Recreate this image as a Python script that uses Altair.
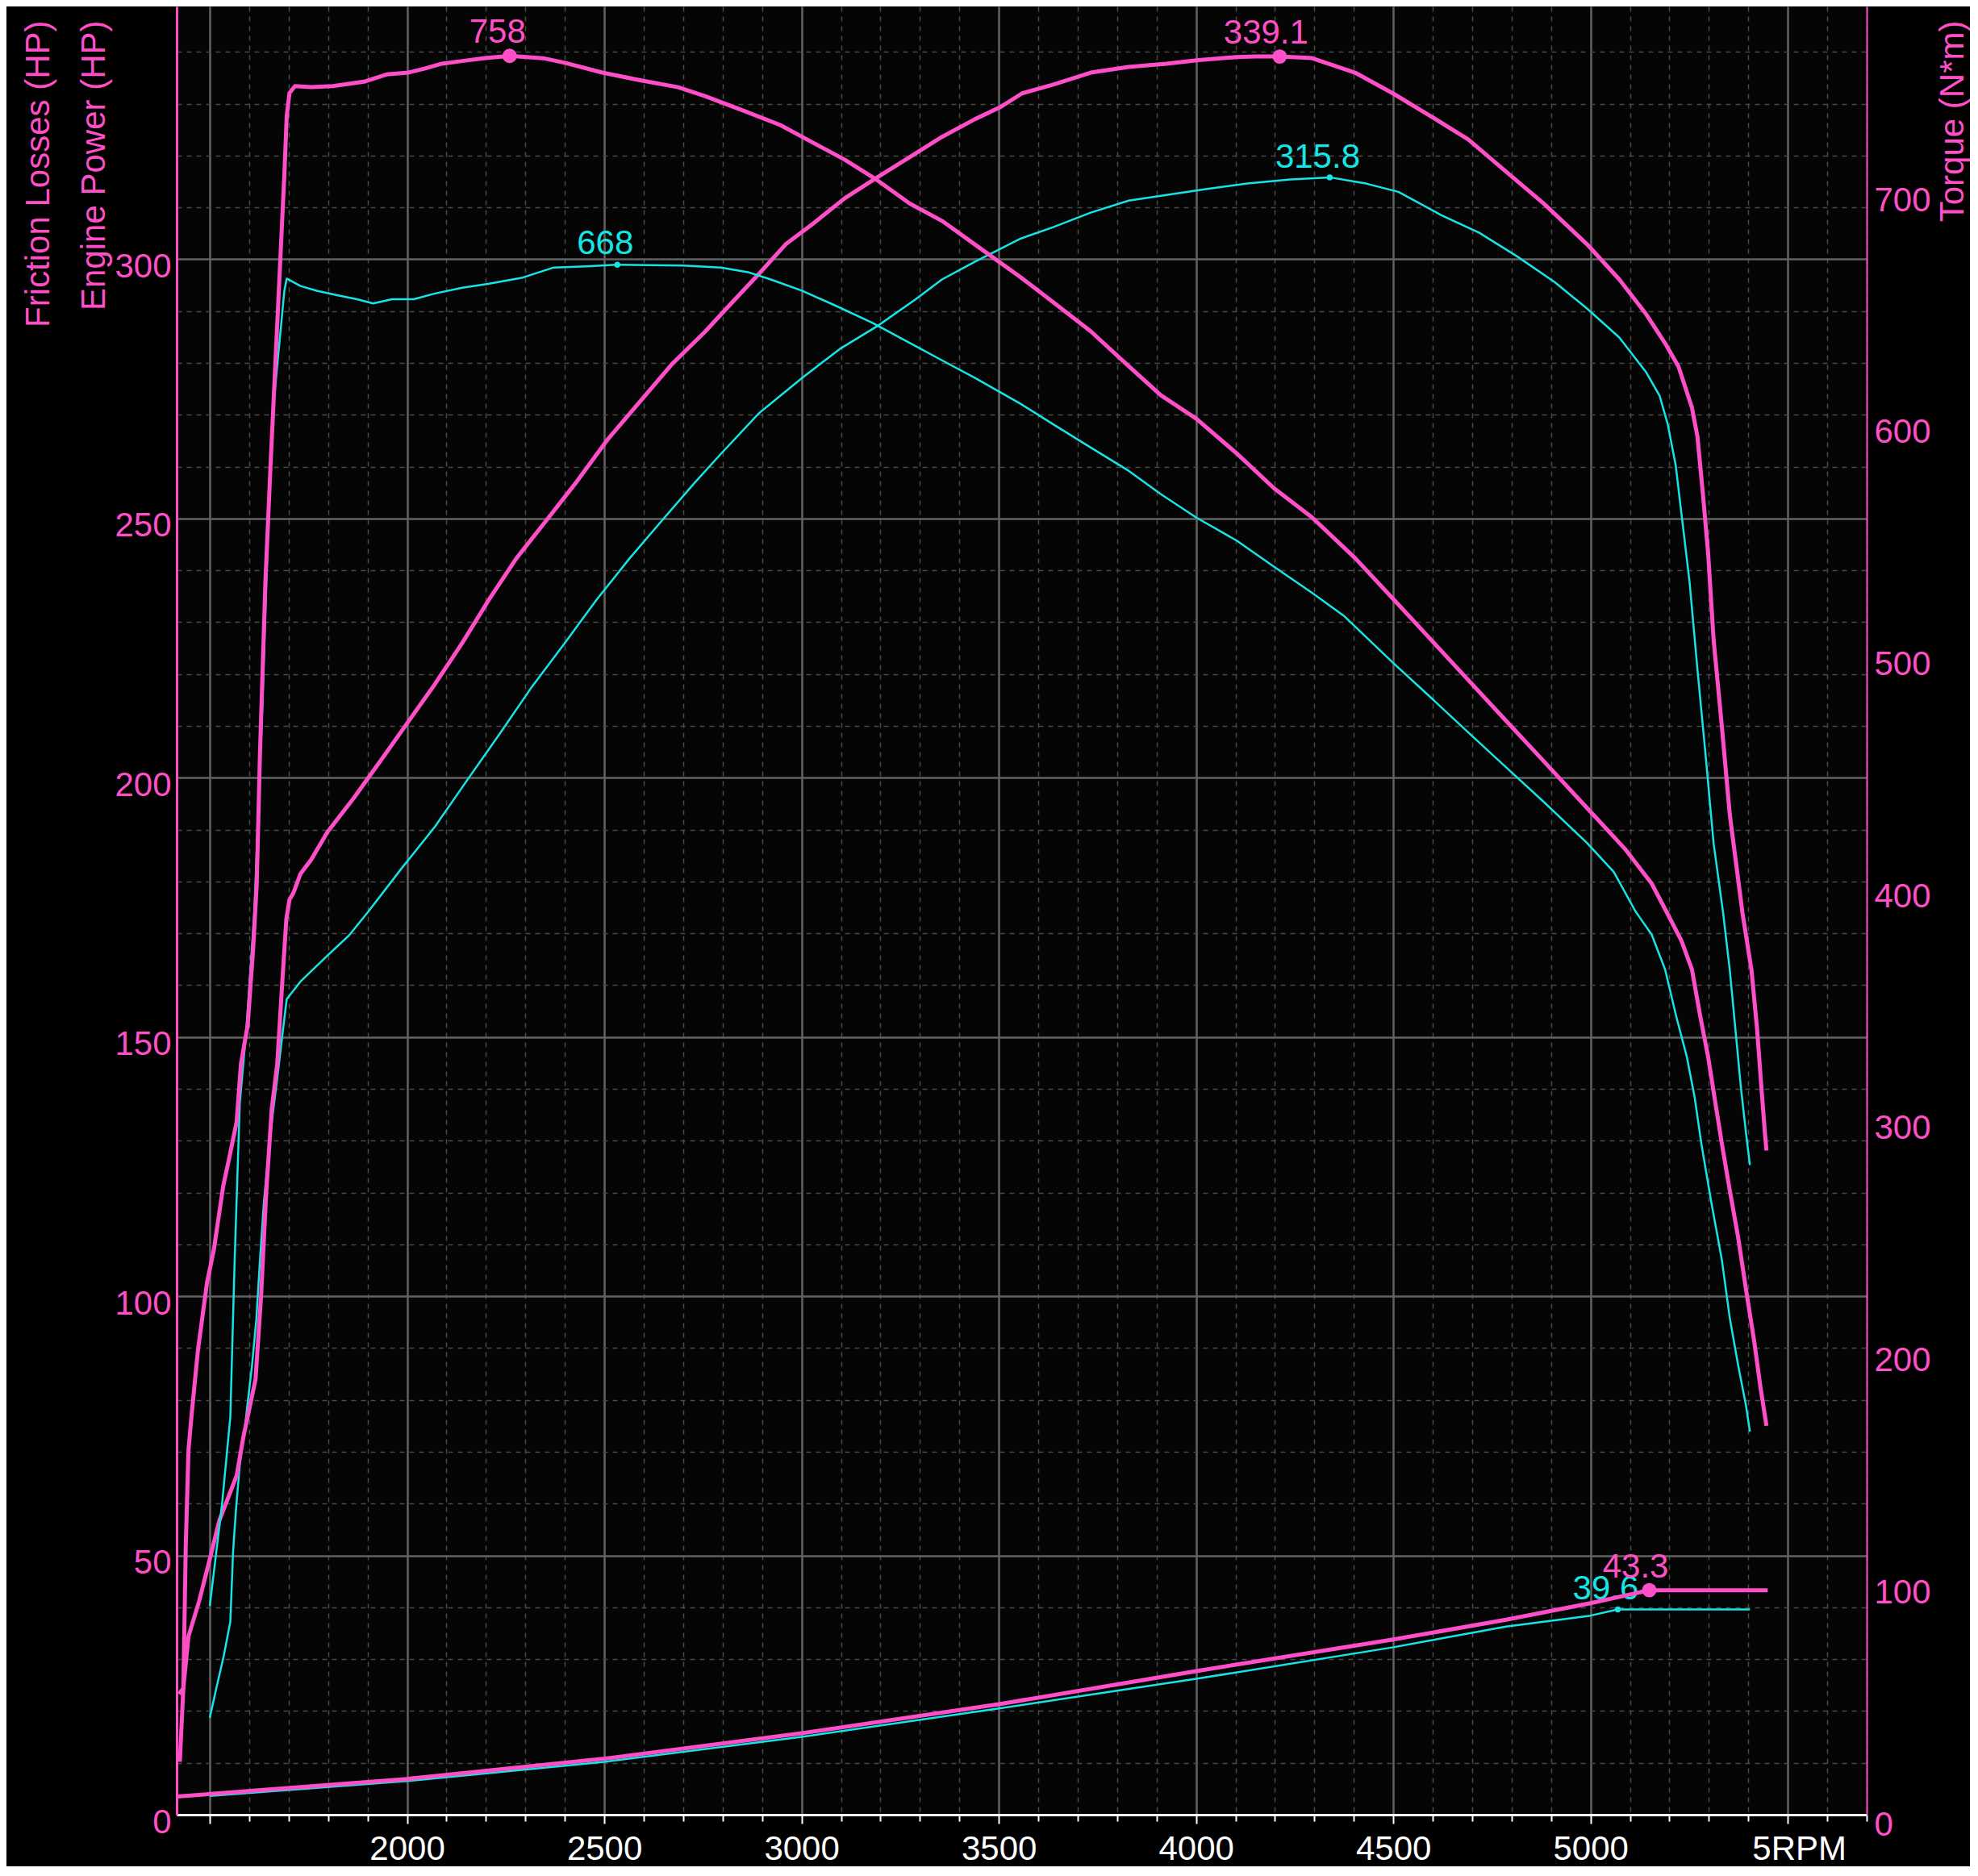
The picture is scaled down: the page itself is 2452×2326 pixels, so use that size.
import altair as alt
import pandas as pd

PINK = "#ff4fc8"
CYAN = "#17e4e4"
FONT = "Liberation Sans"

# ---------------- data ----------------
# Pink run: engine power (HP)
pink_power_rpm = [1424, 1433, 1446, 1473, 1500, 1524, 1568, 1585, 1616, 1630, 1643, 1657, 1671, 1684,
                  1694, 1702, 1712, 1730, 1757, 1798, 1866, 1935, 2003, 2071, 2140, 2208, 2277, 2358,
                  2427, 2509, 2591, 2673, 2755, 2823, 2892, 2960, 3028, 3110, 3192, 3274, 3356, 3439,
                  3503, 3559, 3638, 3733, 3829, 3925, 4007, 4103, 4150, 4212, 4294, 4403, 4499, 4595,
                  4690, 4786, 4882, 4991, 5073, 5141, 5189, 5223, 5257, 5271, 5285, 5298, 5312, 5333,
                  5353, 5385, 5408, 5422, 5433, 5442, 5446]
pink_power_hp = [10.2, 24.5, 34.4, 41.2, 49.3, 56.7, 65.4, 72.8, 84.0, 100.1, 120.0, 136.1, 144.8, 160.9,
                 172.7, 176.5, 177.8, 181.5, 184.2, 189.5, 196.2, 203.5, 210.8, 218.1, 226.0, 234.4, 242.3,
                 250.1, 256.8, 265.3, 272.6, 279.9, 286.0, 291.6, 297.2, 302.9, 306.8, 311.8, 315.8, 319.7,
                 323.6, 327.0, 329.3, 332.0, 333.7, 336.0, 337.1, 337.7, 338.4, 339.0, 339.1, 339.1, 338.8,
                 336.0, 332.0, 327.6, 323.1, 316.9, 310.7, 302.9, 296.1, 289.4, 283.8, 279.3, 271.4, 265.8,
                 254.6, 243.4, 226.6, 209.8, 192.9, 174.0, 162.9, 151.7, 140.4, 131.5, 128.1]

# Pink run: torque (N*m)
pink_torque_rpm = [1422, 1433, 1439, 1446, 1454, 1470, 1493, 1510, 1534, 1548, 1568, 1579, 1596, 1610,
                   1619, 1627, 1641, 1654, 1668, 1682, 1689, 1695, 1702, 1716, 1757, 1812, 1894, 1948,
                   2003, 2044, 2085, 2140, 2194, 2260, 2345, 2400, 2495, 2591, 2687, 2755, 2851, 2946,
                   3028, 3110, 3192, 3274, 3356, 3438, 3556, 3638, 3733, 3829, 3911, 4000, 4103, 4198,
                   4294, 4403, 4499, 4595, 4690, 4786, 4882, 4991, 5087, 5155, 5192, 5230, 5257, 5278,
                   5298, 5312, 5333, 5353, 5374, 5394, 5415, 5431, 5446]
pink_torque_nm = [52.0, 54.6, 115.6, 157.2, 172.6, 200.3, 229.4, 243.2, 270.9, 282.0, 298.6, 323.6, 340.2,
                  373.5, 401.2, 456.4, 531.6, 581.7, 631.8, 681.9, 706.9, 732.0, 742.0, 745.0, 744.5, 745.0,
                  747.0, 750.0, 750.8, 752.5, 754.5, 755.8, 757.0, 758.0, 757.0, 755.0, 750.8, 747.5, 744.5,
                  740.7, 734.5, 728.2, 720.7, 713.2, 704.4, 694.4, 686.9, 676.9, 662.5, 651.8, 639.3, 624.3,
                  611.7, 601.7, 586.7, 571.6, 559.1, 541.6, 524.1, 506.5, 489.0, 471.4, 453.9, 433.9, 416.3,
                  401.3, 389.3, 376.8, 364.3, 344.2, 326.7, 311.6, 289.1, 269.1, 249.0, 226.5, 203.9, 183.9,
                  167.6]

# Pink run: friction losses (HP)
pink_fric_rpm = [1416, 2000, 2500, 3000, 3500, 4000, 4500, 4786, 5000, 5149, 5449]
pink_fric_hp = [3.5, 6.9, 10.8, 15.7, 21.3, 27.7, 33.8, 37.6, 40.8, 43.3, 43.3]

# Cyan run: engine power (HP)
cyan_power_rpm = [1500, 1518, 1535, 1552, 1559, 1566, 1576, 1590, 1600, 1607, 1618, 1627, 1637, 1648,
                  1659, 1672, 1686, 1695, 1730, 1798, 1853, 1901, 1989, 2071, 2153, 2236, 2317, 2400,
                  2481, 2564, 2646, 2728, 2796, 2892, 3001, 3097, 3192, 3288, 3356, 3439, 3556, 3638,
                  3733, 3829, 3925, 4021, 4130, 4239, 4339, 4431, 4513, 4622, 4718, 4813, 4909, 4991,
                  5073, 5141, 5175, 5196, 5216, 5230, 5251, 5271, 5292, 5312, 5336, 5353, 5367, 5381,
                  5394, 5404]
cyan_power_hp = [18.7, 24.9, 30.5, 37.2, 50.7, 58.5, 67.5, 75.4, 82.1, 86.6, 95.6, 106.8, 118.0, 127.0,
                 134.8, 142.7, 151.7, 157.3, 160.7, 165.7, 169.6, 174.1, 182.8, 190.6, 199.6, 208.6, 217.6,
                 226.0, 234.4, 242.3, 249.6, 256.8, 262.5, 270.3, 277.1, 282.7, 287.1, 292.2, 296.1, 299.5,
                 304.0, 306.2, 309.0, 311.3, 312.4, 313.5, 314.6, 315.4, 315.8, 314.6, 313.0, 308.5, 305.1,
                 300.6, 295.6, 290.5, 284.9, 278.2, 273.7, 268.1, 260.2, 251.2, 237.8, 220.9, 204.1, 187.3,
                 174.0, 162.9, 151.7, 140.4, 131.5, 125.3]

# Cyan run: torque (N*m)
cyan_torque_rpm = [1500, 1531, 1552, 1563, 1576, 1593, 1613, 1634, 1648, 1661, 1675, 1689, 1695, 1730,
                   1771, 1825, 1873, 1914, 1962, 2017, 2071, 2140, 2208, 2290, 2372, 2454, 2533, 2618,
                   2700, 2796, 2864, 2919, 3001, 3083, 3179, 3274, 3356, 3439, 3556, 3638, 3733, 3829,
                   3911, 4000, 4103, 4198, 4294, 4376, 4499, 4595, 4690, 4786, 4882, 4991, 5059, 5114,
                   5155, 5189, 5217, 5244, 5264, 5281, 5306, 5333, 5353, 5374, 5394, 5404]
cyan_torque_nm = [90.0, 133.8, 171.4, 239.0, 306.6, 339.2, 389.3, 481.5, 556.6, 606.7, 631.8, 656.8, 662.0,
                  658.8, 656.8, 654.8, 653.1, 651.3, 653.1, 653.1, 655.6, 658.1, 659.8, 662.3, 666.8, 667.3,
                  668.0, 667.8, 667.6, 666.8, 664.8, 661.8, 656.8, 650.6, 643.0, 634.3, 626.8, 619.3, 608.0,
                  599.2, 589.2, 579.2, 569.1, 559.1, 549.1, 537.8, 526.6, 516.5, 496.5, 481.5, 466.4, 451.4,
                  436.4, 418.8, 406.3, 389.3, 379.3, 364.3, 344.2, 326.7, 309.1, 289.1, 264.1, 239.0, 214.0,
                  193.9, 176.4, 165.1]

# Cyan run: friction losses (HP)
cyan_fric_rpm = [1500, 2000, 2500, 3000, 3500, 4000, 4500, 4786, 5000, 5069, 5404]
cyan_fric_hp = [3.6, 6.5, 10.2, 15.0, 20.5, 26.2, 32.3, 36.3, 38.4, 39.6, 39.6]

# Peak markers
pink_hp_peak_rpm = [4212, 5149]
pink_hp_peak_val = [339.1, 43.3]
pink_tq_peak_rpm = [2260]
pink_tq_peak_val = [758]
cyan_hp_peak_rpm = [4339, 5069]
cyan_hp_peak_val = [315.8, 39.6]
cyan_tq_peak_rpm = [2533]
cyan_tq_peak_val = [668]

# Axis ticks
x_ticks = list(range(1500, 5701, 100))
hp_ticks = list(range(0, 341, 10))
tq_ticks = list(range(0, 701, 100))

# ---------------- frames ----------------
def series(rpm, val, name):
    return pd.DataFrame({"rpm": rpm, "val": val, "series": name})

def peaks(rpm, val, fmt):
    return pd.DataFrame({"rpm": rpm, "val": val, "label": [fmt.format(v) for v in val]})

cyan_hp = pd.concat([series(cyan_power_rpm, cyan_power_hp, "power"),
                     series(cyan_fric_rpm, cyan_fric_hp, "friction")])
pink_hp = pd.concat([series(pink_power_rpm, pink_power_hp, "power"),
                     series(pink_fric_rpm, pink_fric_hp, "friction")])
cyan_tq = series(cyan_torque_rpm, cyan_torque_nm, "torque")
pink_tq = series(pink_torque_rpm, pink_torque_nm, "torque")

cyan_hp_pk = peaks(cyan_hp_peak_rpm, cyan_hp_peak_val, "{:.1f}")
pink_hp_pk = peaks(pink_hp_peak_rpm, pink_hp_peak_val, "{:.1f}")
cyan_tq_pk = peaks(cyan_tq_peak_rpm, cyan_tq_peak_val, "{:.0f}")
pink_tq_pk = peaks(pink_tq_peak_rpm, pink_tq_peak_val, "{:.0f}")

# ---------------- encodings ----------------
x_axis = alt.Axis(
    values=x_ticks, format="d", title=None,
    grid=True,
    gridColor={"condition": {"test": "datum.value % 500 === 0", "value": "#626262"}, "value": "#4a4a4a"},
    gridDash={"condition": {"test": "datum.value % 500 === 0", "value": []}, "value": [6, 6]},
    gridWidth={"condition": {"test": "datum.value % 500 === 0", "value": 2.5}, "value": 1.5},
    domainColor="#ffffff", domainWidth=3,
    ticks=True, tickColor="#ffffff", tickWidth=2,
    tickSize={"condition": {"test": "datum.value % 500 === 0", "value": 11}, "value": 8},
    labelColor="#ffffff", labelFont=FONT, labelFontSize=42, labelPadding=11,
    labelExpr="datum.value >= 2000 && datum.value % 500 === 0 ? (datum.value === 5500 ? '5RPM' : datum.label) : ''",
    labelOffset={"condition": {"test": "datum.value === 5500", "value": 14}, "value": 0},
    labelFlush=False, labelOverlap=False,
)
X = alt.X("rpm:Q", scale=alt.Scale(domain=[1416, 5700], nice=False, zero=False), axis=x_axis)

hp_axis = alt.Axis(
    orient="left", values=hp_ticks,
    grid=True,
    gridColor={"condition": {"test": "datum.value % 50 === 0", "value": "#626262"}, "value": "#4a4a4a"},
    gridDash={"condition": {"test": "datum.value % 50 === 0", "value": []}, "value": [6, 6]},
    gridWidth={"condition": {"test": "datum.value % 50 === 0", "value": 2.5}, "value": 1.5},
    domainColor=PINK, domainWidth=3, ticks=False,
    labelColor=PINK, labelFont=FONT, labelFontSize=42, labelPadding=7, labelOffset=9,
    labelExpr="datum.value % 50 === 0 ? datum.label : ''",
    labelFlush=False, labelOverlap=False,
    title=["Friction Losses (HP)", "Engine Power (HP)"],
    titleColor=PINK, titleFont=FONT, titleFontSize=42, titleFontWeight="normal",
    titleAngle=270, titleAlign="right", titleBaseline="middle", titleLineHeight=69,
    titleX=-172, titleY=17,
)
Y_HP = alt.Y("val:Q", scale=alt.Scale(domain=[0, 348.76], nice=False, zero=True), axis=hp_axis)

tq_axis = alt.Axis(
    orient="right", values=tq_ticks, grid=False,
    domainColor=PINK, domainWidth=2, ticks=False,
    labelColor=PINK, labelFont=FONT, labelFontSize=42, labelPadding=9, labelOffset=12,
    labelFlush=False, labelOverlap=False,
    title="Torque (N*m)",
    titleColor=PINK, titleFont=FONT, titleFontSize=42, titleFontWeight="normal",
    titleAngle=270, titleAlign="right", titleBaseline="middle",
    titleX=106, titleY=17,
)
Y_TQ = alt.Y("val:Q", scale=alt.Scale(domain=[0, 779.3], nice=False, zero=True), axis=tq_axis)


def lines(df, color, width, Y):
    return alt.Chart(df).mark_line(color=color, strokeWidth=width, strokeJoin="round", clip=True).encode(
        x=X, y=Y, detail="series:N", order="rpm:Q")


def dots(df, color, size, Y):
    return alt.Chart(df).mark_circle(color=color, size=size, opacity=1).encode(x=X, y=Y)


def labels(df, color, dx, dy, Y):
    return alt.Chart(df).mark_text(color=color, font=FONT, fontSize=42, dx=dx, dy=dy,
                                   align="center", baseline="alphabetic").encode(x=X, y=Y, text="label:N")


hp_layer = alt.layer(
    lines(cyan_hp, CYAN, 2.5, Y_HP),
    dots(cyan_hp_pk, CYAN, 55, Y_HP),
    labels(cyan_hp_pk, CYAN, -15, -12, Y_HP),
    lines(pink_hp, PINK, 5, Y_HP),
    dots(pink_hp_pk, PINK, 320, Y_HP),
    labels(pink_hp_pk, PINK, -17, -16, Y_HP),
)

tq_layer = alt.layer(
    lines(cyan_tq, CYAN, 2.5, Y_TQ),
    dots(cyan_tq_pk, CYAN, 55, Y_TQ),
    labels(cyan_tq_pk, CYAN, -15, -13, Y_TQ),
    lines(pink_tq, PINK, 5, Y_TQ),
    dots(pink_tq_pk, PINK, 320, Y_TQ),
    labels(pink_tq_pk, PINK, -15, -16, Y_TQ),
)

chart = alt.layer(hp_layer, tq_layer).resolve_scale(y="independent").properties(
    width=2095, height=2242,
    autosize=alt.AutoSizeParams(type="none"),
    padding={"left": 211, "top": 0, "right": 128, "bottom": 64},
    background="#000000",
).configure_view(stroke=None, fill="#050505")

chart.save("out.html", embed_options={"renderer": "svg", "actions": False})
